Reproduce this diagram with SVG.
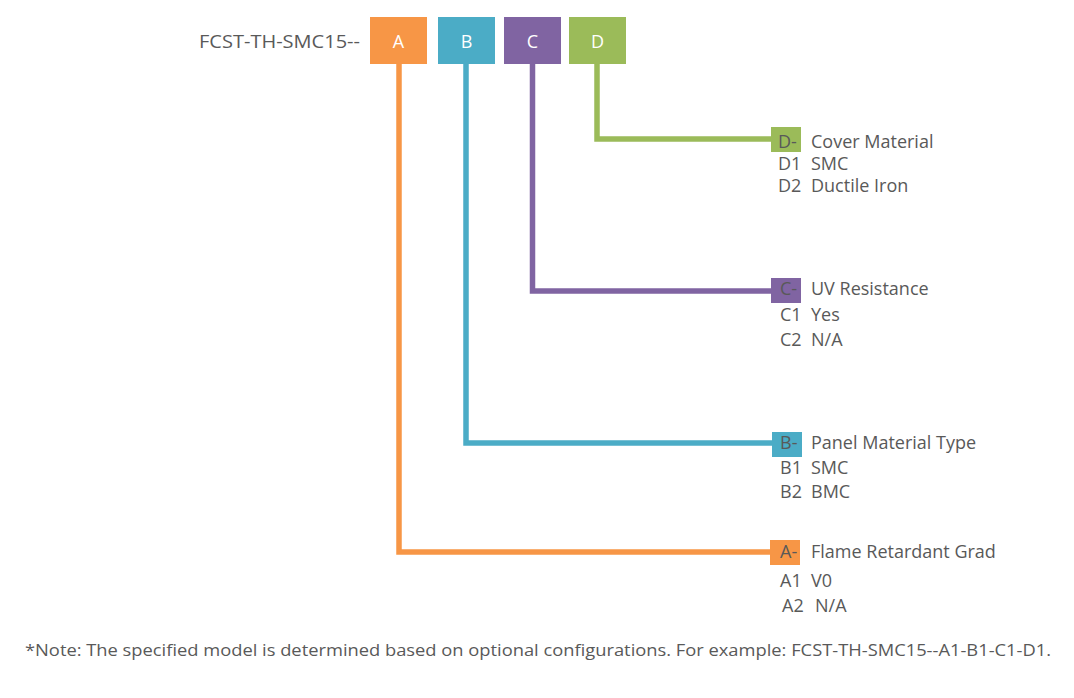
<svg xmlns="http://www.w3.org/2000/svg" width="1074" height="698" viewBox="0 0 1074 698">
<style>
text{font-family:"Open Sans","Noto Sans","Liberation Sans",sans-serif;fill:#595959}
.hdr{font-size:18px}
.lbl{font-size:18px;fill:#fff;text-anchor:middle}
.leg{font-size:18px}
.note{font-size:16px}
.ln{fill:none;stroke-width:5.5;stroke-linejoin:miter}
.o{fill:#F79646}.b{fill:#4BACC6}.p{fill:#8064A2}.g{fill:#9BBB59}
</style>
<rect width="1074" height="698" fill="#fff"/>
<text class="hdr" x="199" y="48" textLength="161" lengthAdjust="spacingAndGlyphs">FCST-TH-SMC15--</text>
<g id="connectors">
<path class="ln" stroke="#F79646" d="M399 63 V552 H772"/>
<path class="ln" stroke="#4BACC6" d="M466 63 V443 H772"/>
<path class="ln" stroke="#8064A2" d="M532.5 63 V291 H772"/>
<path class="ln" stroke="#9BBB59" d="M597 63 V139 H772"/>
</g>
<g id="nodeA"><rect class="o" x="370" y="17" width="57" height="47"/><text class="lbl" x="398.5" y="48">A</text></g>
<g id="nodeB"><rect class="b" x="438" y="17" width="57" height="47"/><text class="lbl" x="466.5" y="48">B</text></g>
<g id="nodeC"><rect class="p" x="504" y="17" width="57" height="47"/><text class="lbl" x="532.5" y="48">C</text></g>
<g id="nodeD"><rect class="g" x="569" y="17" width="57" height="47"/><text class="lbl" x="597.5" y="48">D</text></g>
<g id="legendD">
<rect class="g" x="771" y="127" width="30" height="25"/>
<text class="leg" x="778" y="148">D-</text><text class="leg" x="811" y="148">Cover Material</text>
<text class="leg" x="778" y="170">D1</text><text class="leg" x="811" y="170">SMC</text>
<text class="leg" x="778" y="192">D2</text><text class="leg" x="811" y="192">Ductile Iron</text>
</g>
<g id="legendC">
<rect class="p" x="771" y="278" width="30" height="25"/>
<text class="leg" x="780" y="295">C-</text><text class="leg" x="811" y="295">UV Resistance</text>
<text class="leg" x="780" y="321">C1</text><text class="leg" x="811" y="321">Yes</text>
<text class="leg" x="780" y="346">C2</text><text class="leg" x="811" y="346">N/A</text>
</g>
<g id="legendB">
<rect class="b" x="772" y="432" width="30" height="25"/>
<text class="leg" x="780" y="449">B-</text><text class="leg" x="811" y="449">Panel Material Type</text>
<text class="leg" x="780" y="474">B1</text><text class="leg" x="811" y="474">SMC</text>
<text class="leg" x="780" y="498">B2</text><text class="leg" x="811" y="498">BMC</text>
</g>
<g id="legendA">
<rect class="o" x="770" y="540" width="30" height="25"/>
<text class="leg" x="780" y="558">A-</text><text class="leg" x="811" y="558">Flame Retardant Grad</text>
<text class="leg" x="780" y="587">A1</text><text class="leg" x="811" y="587">V0</text>
<text class="leg" x="782" y="612">A2</text><text class="leg" x="815" y="612">N/A</text>
</g>
<text class="note" x="25" y="656" textLength="1026" lengthAdjust="spacingAndGlyphs">*Note: The specified model is determined based on optional configurations. For example: FCST-TH-SMC15--A1-B1-C1-D1.</text>
</svg>
